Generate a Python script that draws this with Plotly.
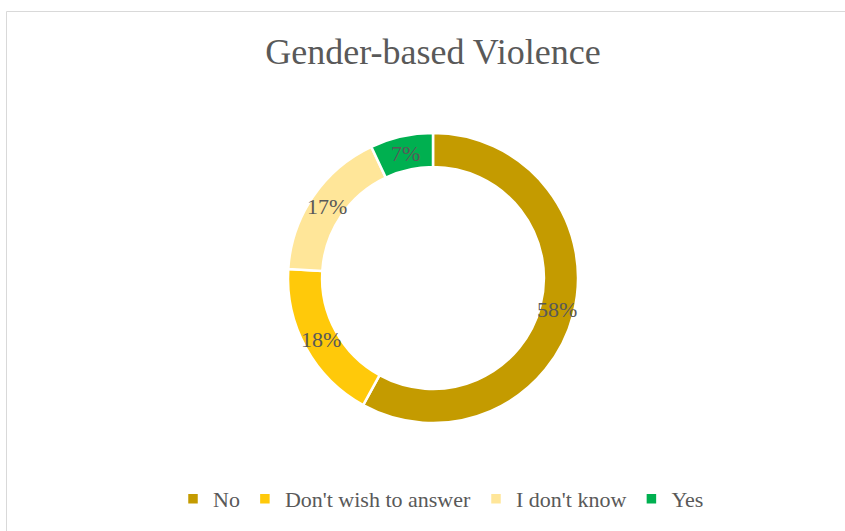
import math
import plotly.graph_objects as go

categories = ["No", "Don't wish to answer", "I don't know", "Yes"]
values = [58, 18, 17, 7]
colors = ["#C49B00", "#FFC90A", "#FFE699", "#00B050"]
labels_text = [f"{v}%" for v in values]

W, H = 845, 531
cx, cy = 433, 278          # pie centre in px (from top-left)
R = 145                    # outer radius px
hole = 0.765
FONT = "Liberation Serif, DejaVu Serif, serif"

fig = go.Figure()
fig.add_trace(go.Pie(
    labels=categories,
    values=values,
    hole=hole,
    sort=False,
    direction="clockwise",
    rotation=0,
    marker=dict(colors=colors, line=dict(color="white", width=2.5)),
    textinfo="none",
    hoverinfo="label+percent",
    domain=dict(x=[(cx - R) / W, (cx + R) / W],
                y=[(H - cy - R) / H, (H - cy + R) / H]),
))

# data labels at middle of ring, at each slice's mid-angle
total = sum(values)
cum = 0
rmid = R * (1 + hole) / 2
for v, t in zip(values, labels_text):
    mid = (cum + v / 2) / total * 2 * math.pi
    cum += v
    px = cx + rmid * math.sin(mid)
    py = cy - rmid * math.cos(mid)
    fig.add_annotation(x=px / W, y=1 - py / H, xref="paper", yref="paper",
                       xanchor="center", yanchor="middle",
                       text=t, showarrow=False,
                       font=dict(family=FONT, size=22, color="#595959"))

# chart frame
fig.add_shape(type="rect", xref="paper", yref="paper",
              x0=6.5 / W, y0=-0.05, x1=1.05, y1=1 - 11.5 / H,
              line=dict(color="#D9D9D9", width=1), fillcolor="rgba(0,0,0,0)")

fig.update_layout(
    width=W, height=H,
    margin=dict(l=0, r=0, t=0, b=0),
    paper_bgcolor="white", plot_bgcolor="white",
    title=dict(text="Gender-based Violence", x=cx / W, xanchor="center",
               y=1 - 51 / H, yanchor="middle", yref="container",
               font=dict(family=FONT, size=36, color="#595959")),
    showlegend=True,
    legend=dict(orientation="h", x=441 / W, xanchor="center",
                y=1 - 499 / H, yanchor="middle",
                font=dict(family=FONT, size=22, color="#595959"),
                traceorder="normal"),
)

fig.write_html("out.html",
               config={"displayModeBar": False},
               post_script="document.body.style.margin='0';")
